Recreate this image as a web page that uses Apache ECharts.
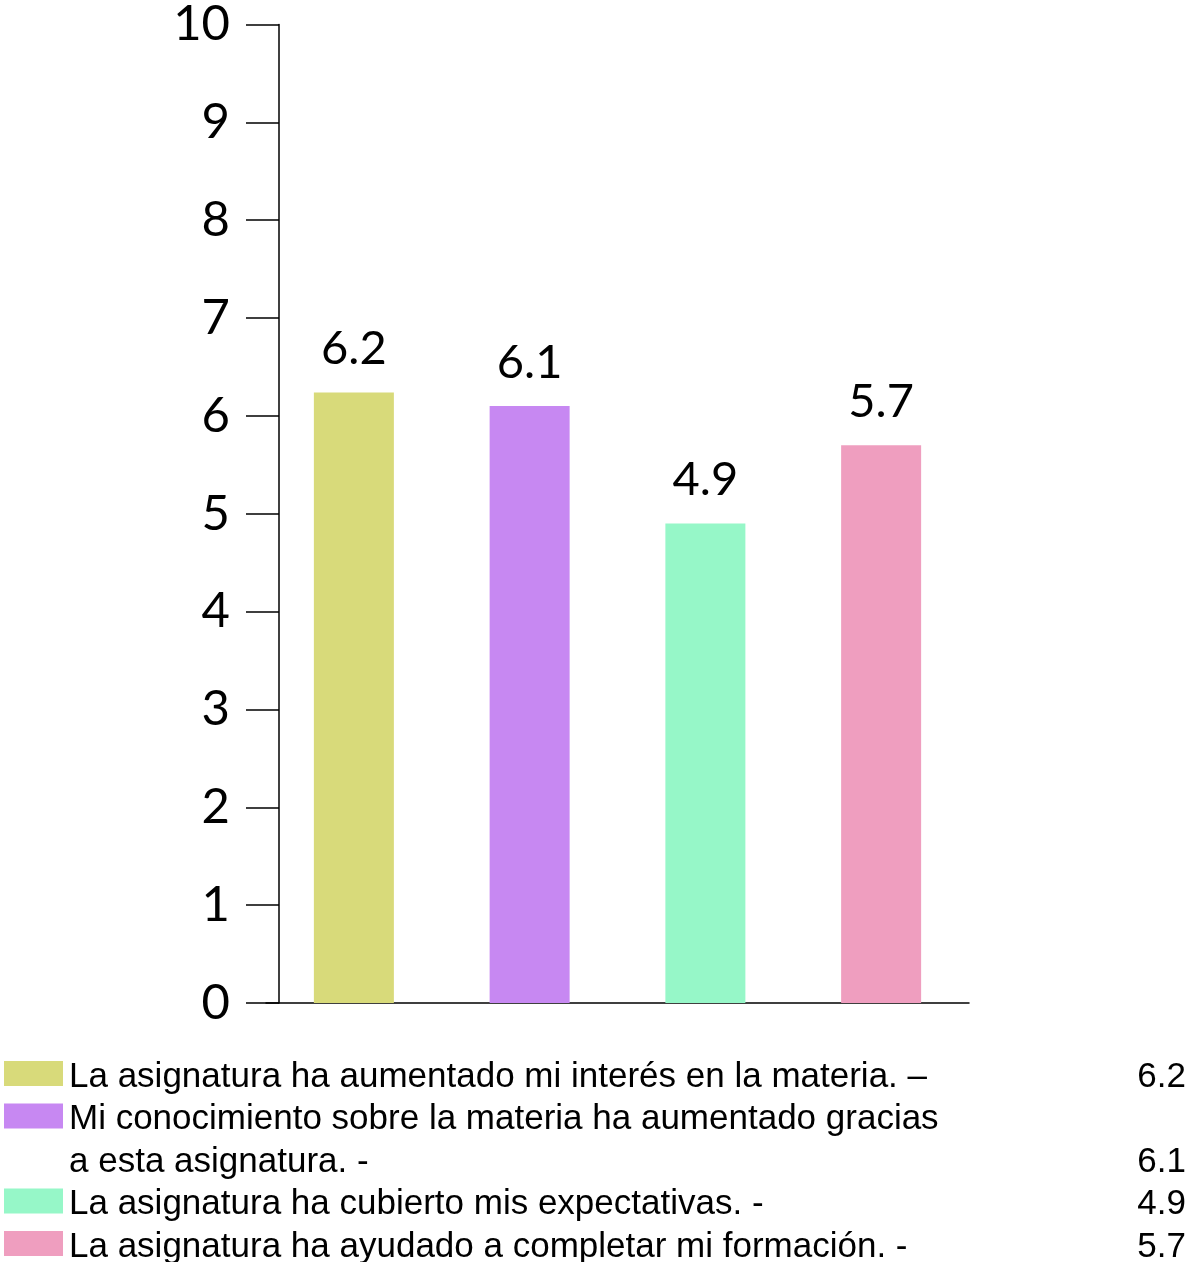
<!DOCTYPE html>
<html>
<head>
<meta charset="utf-8">
<script src="https://cdn.jsdelivr.net/npm/echarts@6/dist/echarts.min.js"></script>
<style>
html,body{margin:0;padding:0;background:#fff;}
#chart{width:1189px;height:1262px;}
</style>
</head>
<body>
<div id="chart"></div>
<script>
const categories = [
  'La asignatura ha aumentado mi interés en la materia. –',
  'Mi conocimiento sobre la materia ha aumentado gracias\na esta asignatura. -',
  'La asignatura ha cubierto mis expectativas. -',
  'La asignatura ha ayudado a completar mi formación. -'
];
const values = [6.24, 6.1, 4.9, 5.7];
const barColors = ['#D8DA7A', '#C788F2', '#96F7C8', '#EF9EBF'];
const yTicks = [0, 1, 2, 3, 4, 5, 6, 7, 8, 9, 10];

const chart = echarts.init(document.getElementById('chart'));

const axisFont = 'Lato, "DejaVu Sans", sans-serif';
const legendFont = '"Liberation Sans", Arial, sans-serif';

// legend built from the arrays
const graphic = [];
const rowH = 42.5;
const firstRowY = 1077;
let row = 0;
categories.forEach((label, i) => {
  const lines = label.split('\n');
  const y0 = firstRowY + row * rowH;
  graphic.push({
    type: 'rect',
    shape: { x: 4, y: y0 - 16, width: 59, height: 25 },
    style: { fill: barColors[i] }
  });
  lines.forEach((ln, k) => {
    graphic.push({
      type: 'text',
      x: 69, y: y0 + k * rowH,
      style: { text: ln, font: '35px ' + legendFont, fill: '#000', verticalAlign: 'middle', align: 'left' }
    });
  });
  const lastY = y0 + (lines.length - 1) * rowH;
  graphic.push({
    type: 'text',
    x: 1186, y: lastY,
    style: { text: values[i].toFixed(1), font: '35px ' + legendFont, fill: '#000', verticalAlign: 'middle', align: 'right' }
  });
  row += lines.length;
});

chart.setOption({
  animation: false,
  backgroundColor: '#fff',
  grid: { left: 266, right: 220, top: 18, bottom: 259, containLabel: false },
  xAxis: {
    type: 'category',
    data: categories,
    axisLine: { show: true, lineStyle: { color: '#000', width: 1.5 } },
    axisTick: { show: false },
    axisLabel: { show: false },
    splitLine: { show: false }
  },
  yAxis: {
    type: 'value',
    min: yTicks[0],
    max: yTicks[yTicks.length - 1],
    interval: 1,
    offset: -13,
    axisLine: { show: true, lineStyle: { color: '#000', width: 1.5 } },
    axisTick: { show: true, length: 33, lineStyle: { color: '#000', width: 1.5 } },
    axisLabel: { show: true, color: '#000', fontSize: 49, fontFamily: axisFont, margin: 49, padding: [14, 0, 0, 0] },
    splitLine: { show: false }
  },
  series: [{
    type: 'bar',
    barWidth: 80,
    data: values.map((v, i) => ({ value: v, itemStyle: { color: barColors[i] } })),
    label: {
      show: true,
      position: 'top',
      distance: 20,
      color: '#000',
      fontSize: 47,
      fontFamily: axisFont,
      formatter: p => p.value.toFixed(1)
    }
  }],
  graphic: graphic
});
</script>
</body>
</html>
